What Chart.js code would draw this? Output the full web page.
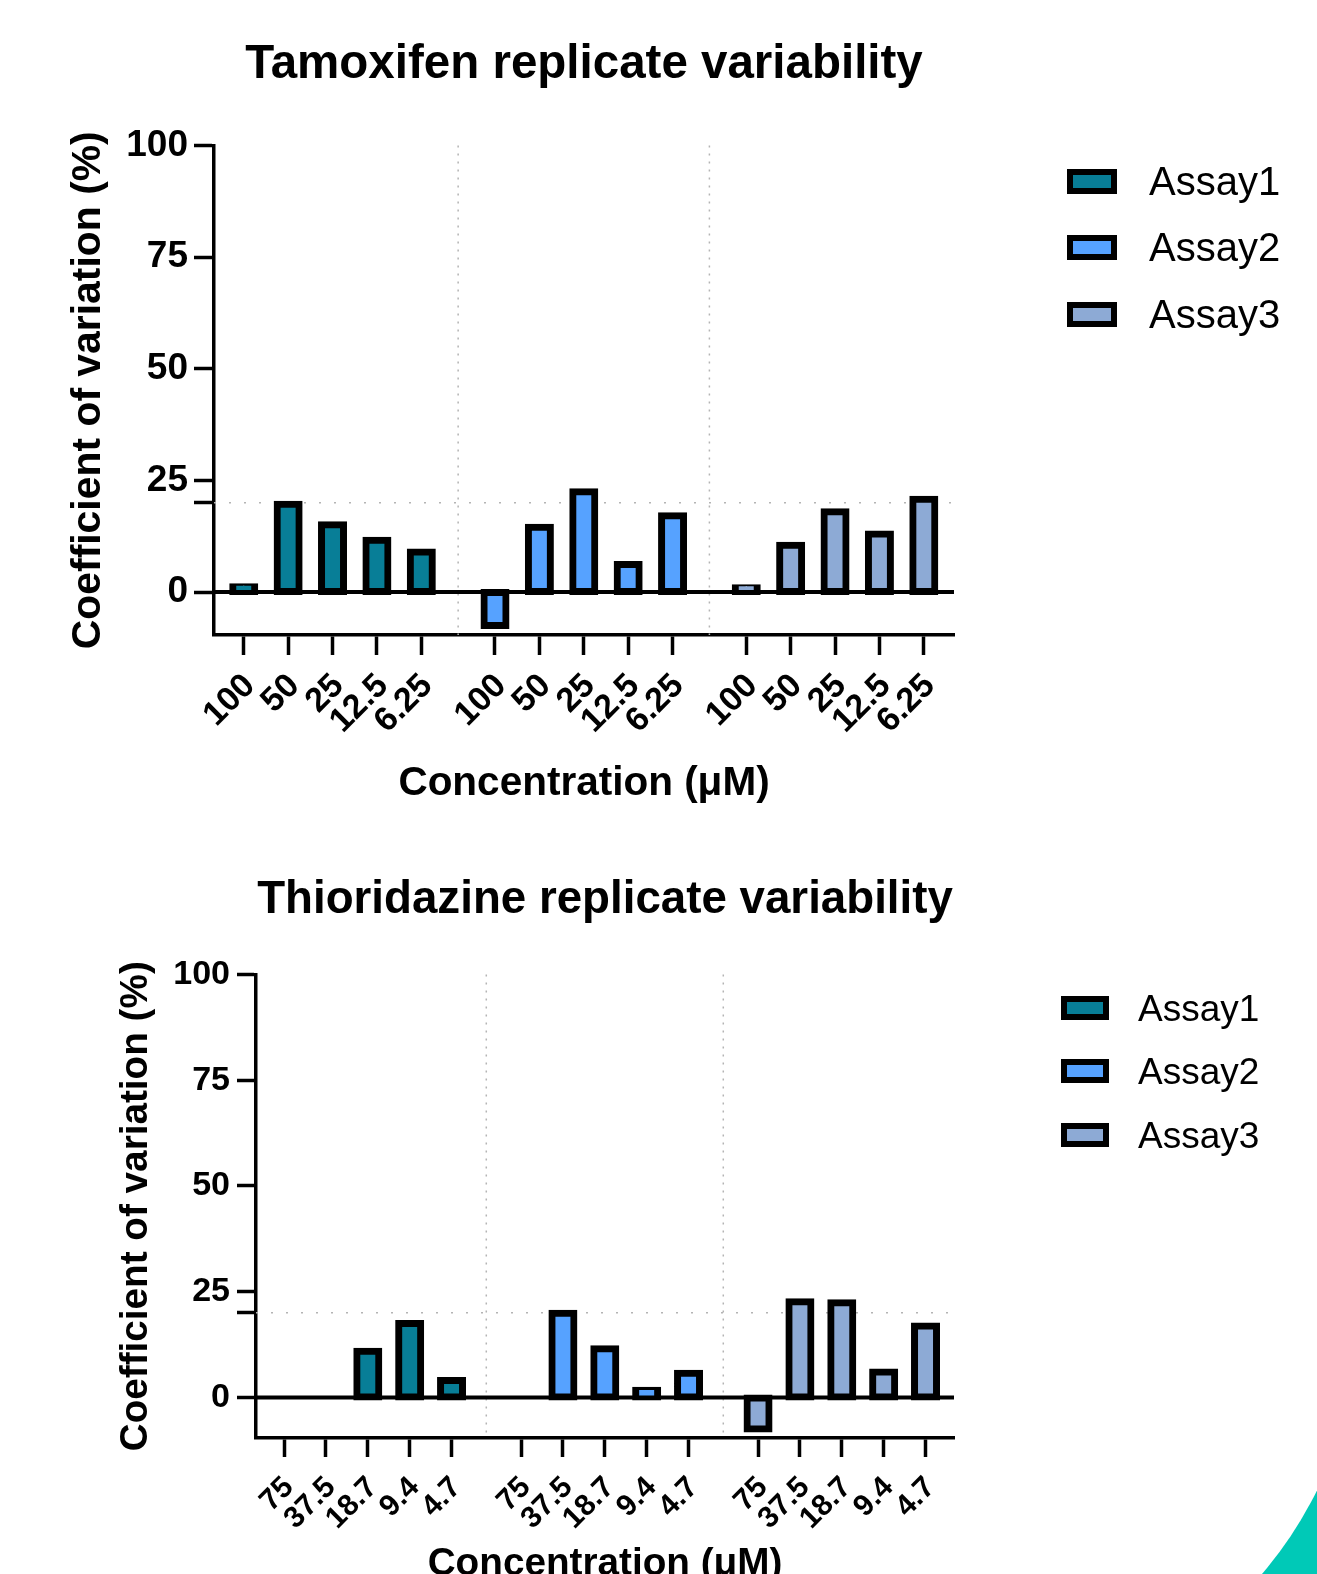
<!DOCTYPE html>
<html>
<head>
<meta charset="utf-8">
<script src="https://cdn.jsdelivr.net/npm/chart.js@4.4.1/dist/chart.umd.min.js"></script>
<style>
html, body { margin: 0; padding: 0; background: #fff; width: 1317px; height: 1574px; overflow: hidden; }
#page { position: relative; width: 1317px; height: 1574px; overflow: hidden; font-family: "Liberation Sans", Arial, sans-serif; }
canvas { position: absolute; left: 0; }
.legend-item { position: absolute; display: flex; align-items: center; white-space: nowrap; color: #000; line-height: 1; }
.swatch { position: absolute; box-sizing: border-box; border: 6px solid #000; }
#corner { position: absolute; left: 1200px; top: 1430px; width: 117px; height: 144px; overflow: hidden; }
#corner div { position: absolute; left: -642px; top: -516px; width: 800px; height: 800px; border-radius: 50%; box-shadow: 0 0 0 300px #00C9B7; }
</style>
</head>
<body>
<div id="page">
    <canvas id="tamox" width="1317" height="810" style="top:0px"></canvas>
    <canvas id="thio" width="1317" height="800" style="top:810px"></canvas>
    <div id="tamox-legend"></div>
    <div id="thio-legend"></div>
    <div id="corner"><div></div></div>
</div>
<script>
// data
const tamoxConc = ['100', '50', '25', '12.5', '6.25'];
const thioConc = ['75', '37.5', '18.7', '9.4', '4.7'];
const assays = ['Assay1', 'Assay2', 'Assay3'];
const assayColors = ['#087E97', '#56A2FF', '#8DAAD5'];

const tamoxAssay1 = [1.2, 19.7, 15.1, 11.6, 9.0];
const tamoxAssay2 = [-7.5, 14.5, 22.5, 6.2, 17.1];
const tamoxAssay3 = [1.0, 10.5, 18.0, 13.0, 20.8];

const thioAssay1 = [null, null, 10.9, 17.5, 4.0];
const thioAssay2 = [null, 19.9, 11.5, 1.7, 5.7];
const thioAssay3 = [-7.5, 22.6, 22.4, 6.0, 16.9];

const yTickValues = [0, 20, 25, 50, 75, 100];
const cvThreshold = 20;

const GROUP_STEP = 5.66;   // slot distance between assay groups
const FONT = '"Liberation Sans", Arial, sans-serif';

Chart.defaults.font.family = FONT;
Chart.defaults.color = '#000';

// dotted separators, dotted 20% line and the zero line
const refLines = {
    id: 'refLines',
    beforeDatasetsDraw(chart, args, opts) {
        const { ctx, chartArea: a, scales: { x, y } } = chart;
        ctx.save();
        ctx.strokeStyle = '#b4b4b4';
        ctx.lineWidth = 1.5;
        ctx.setLineDash([2, 6]);
        opts.separators.forEach(v => {
            const px = x.getPixelForValue(v);
            ctx.beginPath();
            ctx.moveTo(px, a.top);
            ctx.lineTo(px, a.bottom);
            ctx.stroke();
        });
        ctx.setLineDash([2, 13]);
        const py = y.getPixelForValue(opts.threshold);
        ctx.beginPath();
        ctx.moveTo(a.left, py);
        ctx.lineTo(a.right, py);
        ctx.stroke();
        ctx.restore();
    },
    afterDatasetsDraw(chart) {
        const { ctx, chartArea: a, scales: { y } } = chart;
        const py = y.getPixelForValue(0);
        ctx.save();
        ctx.strokeStyle = '#000';
        ctx.lineWidth = 4;
        ctx.beginPath();
        ctx.moveTo(a.left, py);
        ctx.lineTo(a.right, py);
        ctx.stroke();
        ctx.restore();
    }
};

function makeChart(id, c) {
    const positions = [];
    const datasets = c.series.map((vals, k) => {
        const pts = c.conc.map((lbl, i) => {
            positions.push(k * GROUP_STEP + i);
            return { x: k * GROUP_STEP + i, y: vals[i] };
        });
        return {
            label: assays[k],
            data: pts,
            backgroundColor: assayColors[k],
            borderColor: '#000',
            borderWidth: 7,
            borderSkipped: false,
            inflateAmount: 3.5,   // border centred on the bar edge
            barThickness: 22,
            grouped: false
        };
    });

    return new Chart(document.getElementById(id), {
        type: 'bar',
        data: { datasets: datasets },
        plugins: [refLines],
        options: {
            responsive: false,
            animation: false,
            devicePixelRatio: 1,
            layout: { padding: c.padding },
            plugins: {
                legend: { display: false },
                tooltip: { enabled: false },
                title: {
                    display: true,
                    text: c.title,
                    fullSize: false,
                    color: '#000',
                    font: { size: c.titleSize, weight: 'bold', lineHeight: 1.2 },
                    padding: c.titlePad
                },
                refLines: {
                    separators: [(4 + GROUP_STEP) / 2, (4 + 3 * GROUP_STEP) / 2],
                    threshold: cvThreshold
                }
            },
            scales: {
                x: {
                    type: 'linear',
                    min: -0.67,
                    max: 16,
                    offset: false,
                    afterBuildTicks: s => { s.ticks = positions.map(v => ({ value: v })); },
                    afterFit: s => { s.height = c.xHeight; },
                    ticks: {
                        autoSkip: false,
                        minRotation: 45,
                        maxRotation: 45,
                        padding: c.xTickPad,
                        labelOffset: c.xLabelOffset,
                        color: '#000',
                        font: { size: c.xTickSize, weight: 'bold' },
                        callback: (v, i) => c.conc[i % c.conc.length]
                    },
                    grid: { offset: false, drawOnChartArea: false, tickLength: c.tickLen, tickWidth: 3.5, tickColor: '#000' },
                    border: { color: '#000', width: 3.5 },
                    title: {
                        display: true,
                        text: 'Concentration (μM)',
                        color: '#000',
                        font: { size: c.xTitleSize, weight: 'bold', lineHeight: 1.2 },
                        padding: 0
                    }
                },
                y: {
                    min: -9.6,
                    max: 100,
                    afterBuildTicks: s => { s.ticks = yTickValues.map(v => ({ value: v })); },
                    afterFit: s => { s.width = c.yWidth; },
                    ticks: {
                        padding: c.yTickPad,
                        color: '#000',
                        font: { size: c.yTickSize, weight: 'bold' },
                        callback: v => (v === cvThreshold ? '' : v)
                    },
                    grid: { drawOnChartArea: false, tickLength: c.tickLen, tickWidth: 3.5, tickColor: '#000' },
                    border: { color: '#000', width: 3.5 },
                    title: {
                        display: true,
                        text: 'Coefficient of variation (%)',
                        color: '#000',
                        font: { size: c.yTitleSize, weight: 'bold', lineHeight: 1.2 },
                        padding: { top: c.yTitlePad, bottom: 0 }
                    }
                }
            }
        }
    });
}

function makeLegend(chart, elId, l) {
    const el = document.getElementById(elId);
    el.innerHTML = '';
    chart.data.datasets.forEach((ds, i) => {
        const cy = l.rows[i];
        const sw = document.createElement('div');
        sw.className = 'swatch';
        sw.style.left = l.swLeft + 'px';
        sw.style.top = (cy - l.swH / 2) + 'px';
        sw.style.width = l.swW + 'px';
        sw.style.height = l.swH + 'px';
        sw.style.background = ds.backgroundColor;
        el.appendChild(sw);

        const tx = document.createElement('div');
        tx.className = 'legend-item';
        tx.style.left = l.textLeft + 'px';
        tx.style.top = (cy - l.fontSize / 2) + 'px';
        tx.style.height = l.fontSize + 'px';
        tx.style.fontSize = l.fontSize + 'px';
        tx.textContent = ds.label;
        el.appendChild(tx);
    });
}

const tamoxChart = makeChart('tamox', {
    title: 'Tamoxifen replicate variability',
    conc: tamoxConc,
    series: [tamoxAssay1, tamoxAssay2, tamoxAssay3],
    padding: { top: 0, left: 0, right: 363, bottom: 1.7 },
    titleSize: 47.5, titlePad: { top: 36.5, bottom: 52 },
    yWidth: 214, yTickSize: 37, yTickPad: 6, yTitleSize: 40.9, yTitlePad: 64,
    xHeight: 173.3, xTickSize: 34, xTickPad: 11, xLabelOffset: 6, xTitleSize: 40.5,
    tickLen: 20
});

const thioChart = makeChart('thio', {
    title: 'Thioridazine replicate variability',
    conc: thioConc,
    series: [thioAssay1, thioAssay2, thioAssay3],
    padding: { top: 0, left: 0, right: 363, bottom: 22.8 },
    titleSize: 45.7, titlePad: { top: 62.6, bottom: 47.1 },
    yWidth: 256, yTickSize: 34, yTickPad: 7, yTitleSize: 38.7, yTitlePad: 113.3,
    xHeight: 149.2, xTickSize: 30, xTickPad: 13, xLabelOffset: 5, xTitleSize: 38.7,
    tickLen: 19
});

makeLegend(tamoxChart, 'tamox-legend', { rows: [181, 247, 314], swLeft: 1067, swW: 50, swH: 25, textLeft: 1149, fontSize: 40 });
makeLegend(thioChart, 'thio-legend', { rows: [1008, 1071, 1135], swLeft: 1061, swW: 48, swH: 24, textLeft: 1138, fontSize: 37 });
</script>
</body>
</html>
